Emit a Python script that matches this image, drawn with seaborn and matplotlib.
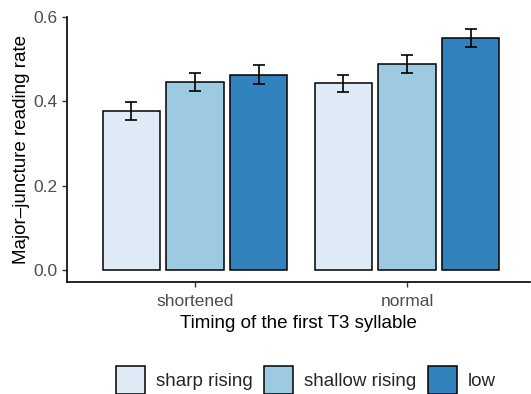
import matplotlib
matplotlib.use("Agg")
import matplotlib.pyplot as plt
import seaborn as sns
import pandas as pd
import numpy as np
from matplotlib.patches import Patch

timing = ["shortened", "shortened", "shortened", "normal", "normal", "normal"]
contour = ["sharp rising", "shallow rising", "low", "sharp rising", "shallow rising", "low"]
rate = [0.378, 0.446, 0.464, 0.443, 0.489, 0.550]
se = [0.021, 0.021, 0.022, 0.021, 0.021, 0.021]
categories = ["shortened", "normal"]
hue_levels = ["sharp rising", "shallow rising", "low"]
colors = ["#DEEBF7", "#9ECAE1", "#3182BD"]

df = pd.DataFrame({"timing": timing, "contour": contour, "rate": rate, "se": se})

sns.set_theme(style="ticks")
plt.rcParams["font.family"] = ["Liberation Sans", "DejaVu Sans"]

W, H = 531, 394
fig = plt.figure(figsize=(W / 100, H / 100), dpi=100)
left, right, top, bottom = 67, 530, 17.3, 281.7
ax = fig.add_axes([left / W, 1 - bottom / H, (right - left) / W, (bottom - top) / H])

sns.barplot(data=df, x="timing", y="rate", hue="contour", order=categories,
            hue_order=hue_levels, palette=colors, saturation=1, errorbar=None,
            width=0.9, gap=0.1, edgecolor="black", linewidth=1.1, ax=ax, legend=False)

# error bars at bar centres
for i, cont in enumerate(hue_levels):
    cont_container = ax.containers[i]
    for j, cat in enumerate(categories):
        patch = cont_container.patches[j]
        xc = patch.get_x() + patch.get_width() / 2
        row = df[(df.timing == cat) & (df.contour == cont)].iloc[0]
        ax.errorbar(xc, row.rate, yerr=row.se, color="black", capsize=4.3,
                    elinewidth=1.2, capthick=1.2, fmt="none", zorder=5)

ax.set_xlim(-0.604, 1.58)
ax.set_ylim(-0.0286, 0.6)
ax.set_yticks([0.0, 0.2, 0.4, 0.6])
ax.set_yticklabels(["0.0", "0.2", "0.4", "0.6"])
ax.tick_params(axis="both", colors="#333333", labelcolor="#4d4d4d", labelsize=12.5,
               length=3.5, width=1.0)
ax.tick_params(axis="x", pad=5)
ax.set_xlabel("Timing of the first T3 syllable", fontsize=13.5, color="black", labelpad=5)
ax.set_ylabel("Major\u2013juncture reading rate", fontsize=13.5, color="black", labelpad=2)
for s in ["top", "right"]:
    ax.spines[s].set_visible(False)
for s in ["left", "bottom"]:
    ax.spines[s].set_linewidth(1.2)
    ax.spines[s].set_color("black")

handles = [Patch(facecolor=c, edgecolor="black", linewidth=1.1, label=l)
           for c, l in zip(colors, hue_levels)]
fig.legend(handles=handles, loc="center", bbox_to_anchor=(306 / W, 14 / H), ncol=3,
           frameon=False, fontsize=13.5, handlelength=1.55, handleheight=2.0,
           handletextpad=0.6, columnspacing=0.6)

fig.savefig("out.png", dpi=100)
